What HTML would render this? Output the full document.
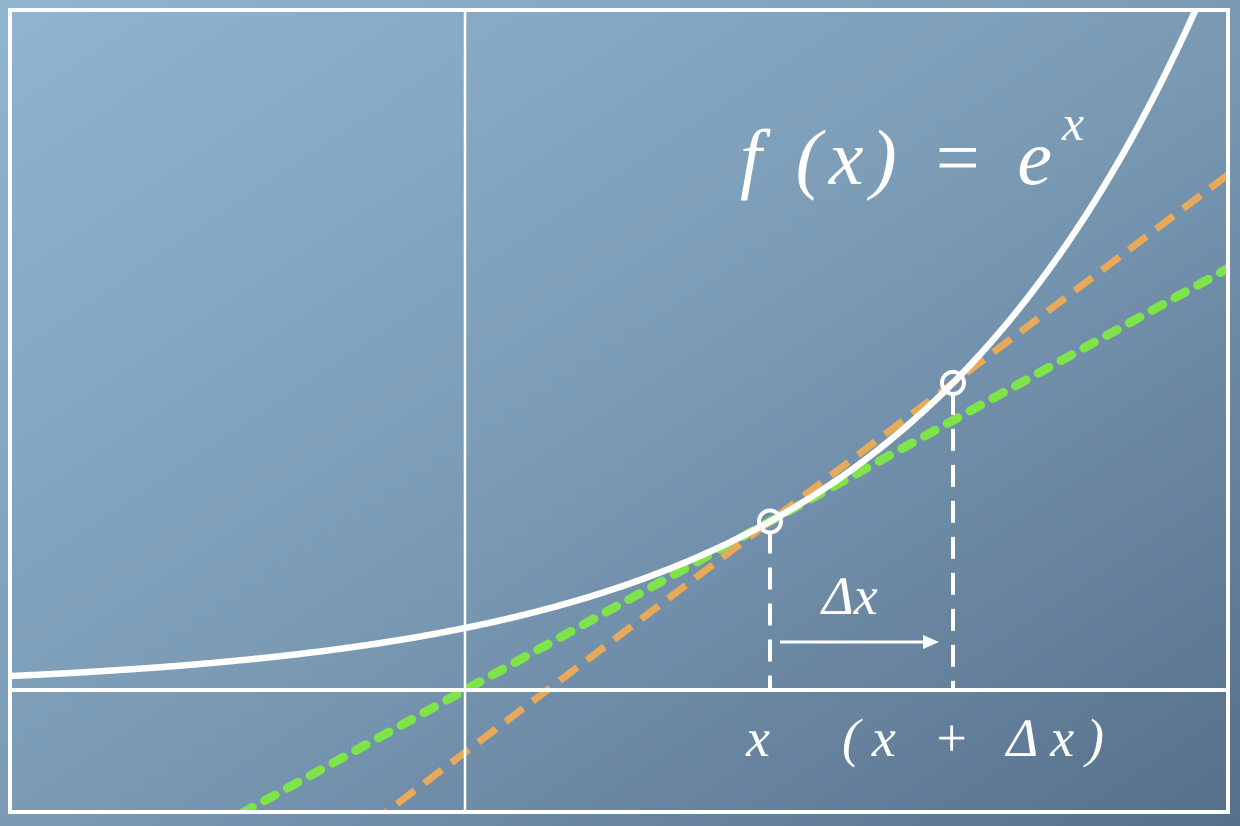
<!DOCTYPE html>
<html><head><meta charset="utf-8"><style>
html,body{margin:0;padding:0;width:1240px;height:826px;overflow:hidden}
svg{display:block;position:absolute;left:0;top:0}
</style></head><body>
<svg id="chart" width="1240" height="826" viewBox="0 0 1240 826">
<defs>
<linearGradient id="bg" x1="0" y1="0" x2="1" y2="1">
<stop offset="0" stop-color="#91b5cf"/><stop offset="0.5" stop-color="#7b9bb5"/><stop offset="1" stop-color="#566f8b"/>
</linearGradient>
<clipPath id="clip"><rect x="10" y="10" width="1218" height="802"/></clipPath>
</defs>
<rect width="1240" height="826" fill="url(#bg)"/>
<g id="marks" clip-path="url(#clip)"></g>
<rect x="10" y="10" width="1218" height="802" fill="none" stroke="#fff" stroke-width="4"/>
<line x1="465" y1="10" x2="465" y2="812" stroke="#fff" stroke-width="2.5"/>
<line x1="10" y1="690" x2="1228" y2="690" stroke="#fff" stroke-width="4"/>
<g id="labels" font-family="Liberation Serif, serif" font-style="italic" fill="#fff"></g>
</svg>
<script>
const pointXs = [1.0, 1.6];
const xDomain = [-1.5246, 2.5];
const labelTexts = ["f (x) = e", "x", "Δx", "x", "(x + Δx)"];

const X0 = 465, Y0 = 690, SX = 305, SY = 62;
const sx = v => X0 + v * SX;
const sy = v => Y0 - v * SY;
const f = Math.exp;
const NS = "http://www.w3.org/2000/svg";
const marks = document.getElementById('marks');
function mk(tag, attrs, parent) {
  const e = document.createElementNS(NS, tag);
  for (const k in attrs) e.setAttribute(k, attrs[k]);
  (parent || marks).appendChild(e);
  return e;
}
const a = pointXs[0], b = pointXs[1];
const m = f(a);
const tl = mk('line', {x1: sx(-2), y1: sy(f(a) + m * (-2 - a)), x2: sx(3), y2: sy(f(a) + m * (3 - a)), stroke: '#7fe34a', 'stroke-width': 9, 'stroke-dasharray': '12 14', 'stroke-linecap': 'round'});


const s = (f(b) - f(a)) / (b - a);
const sl = mk('line', {x1: sx(-2), y1: sy(f(a) + s * (-2 - a)), x2: sx(3), y2: sy(f(a) + s * (3 - a)), stroke: '#e8aa58', 'stroke-width': 7, 'stroke-dasharray': '22 12'});


let d = '';
for (let i = 0; i <= 400; i++) {
  const v = xDomain[0] + (xDomain[1] + 0.1 - xDomain[0]) * i / 400;
  d += (i ? 'L' : 'M') + sx(v).toFixed(1) + ' ' + sy(f(v)).toFixed(1);
}
const cv = mk('path', {d: d, fill: 'none', stroke: '#fff', 'stroke-width': 6.5});


pointXs.forEach((v, i) => {
  const dl = mk('line', {x1: sx(v), y1: sy(f(v)) + 10, x2: sx(v), y2: Y0, stroke: '#fff', 'stroke-width': 4, 'stroke-dasharray': '22 14'});
  
  
  const c = mk('circle', {cx: sx(v), cy: sy(f(v)), r: 11, fill: 'none', stroke: '#fff', 'stroke-width': 4});
  
  
});
const ar = mk('line', {x1: sx(a) + 10, y1: 642, x2: sx(b) - 22, y2: 642, stroke: '#fff', 'stroke-width': 3});


const ah = mk('path', {d: `M${sx(b) - 14} 642 L${sx(b) - 30} 635 L${sx(b) - 30} 649 Z`, fill: '#fff'});


const L = document.getElementById('labels');
const t1 = mk('text', {x: 740, y: 184, 'font-size': 78, textLength: 312, lengthAdjust: 'spacing'}, L); t1.textContent = labelTexts[0];


const t1b = mk('text', {x: 1062, y: 140, 'font-size': 50}, L); t1b.textContent = labelTexts[1];


const t2 = mk('text', {x: 822, y: 614, 'font-size': 54}, L); t2.textContent = labelTexts[2];


const t3 = mk('text', {x: 746, y: 756, 'font-size': 54}, L); t3.textContent = labelTexts[3];


const t4 = mk('text', {x: 842, y: 756, 'font-size': 54, textLength: 262, lengthAdjust: 'spacing'}, L); t4.textContent = labelTexts[4];


</script>
</body></html>
